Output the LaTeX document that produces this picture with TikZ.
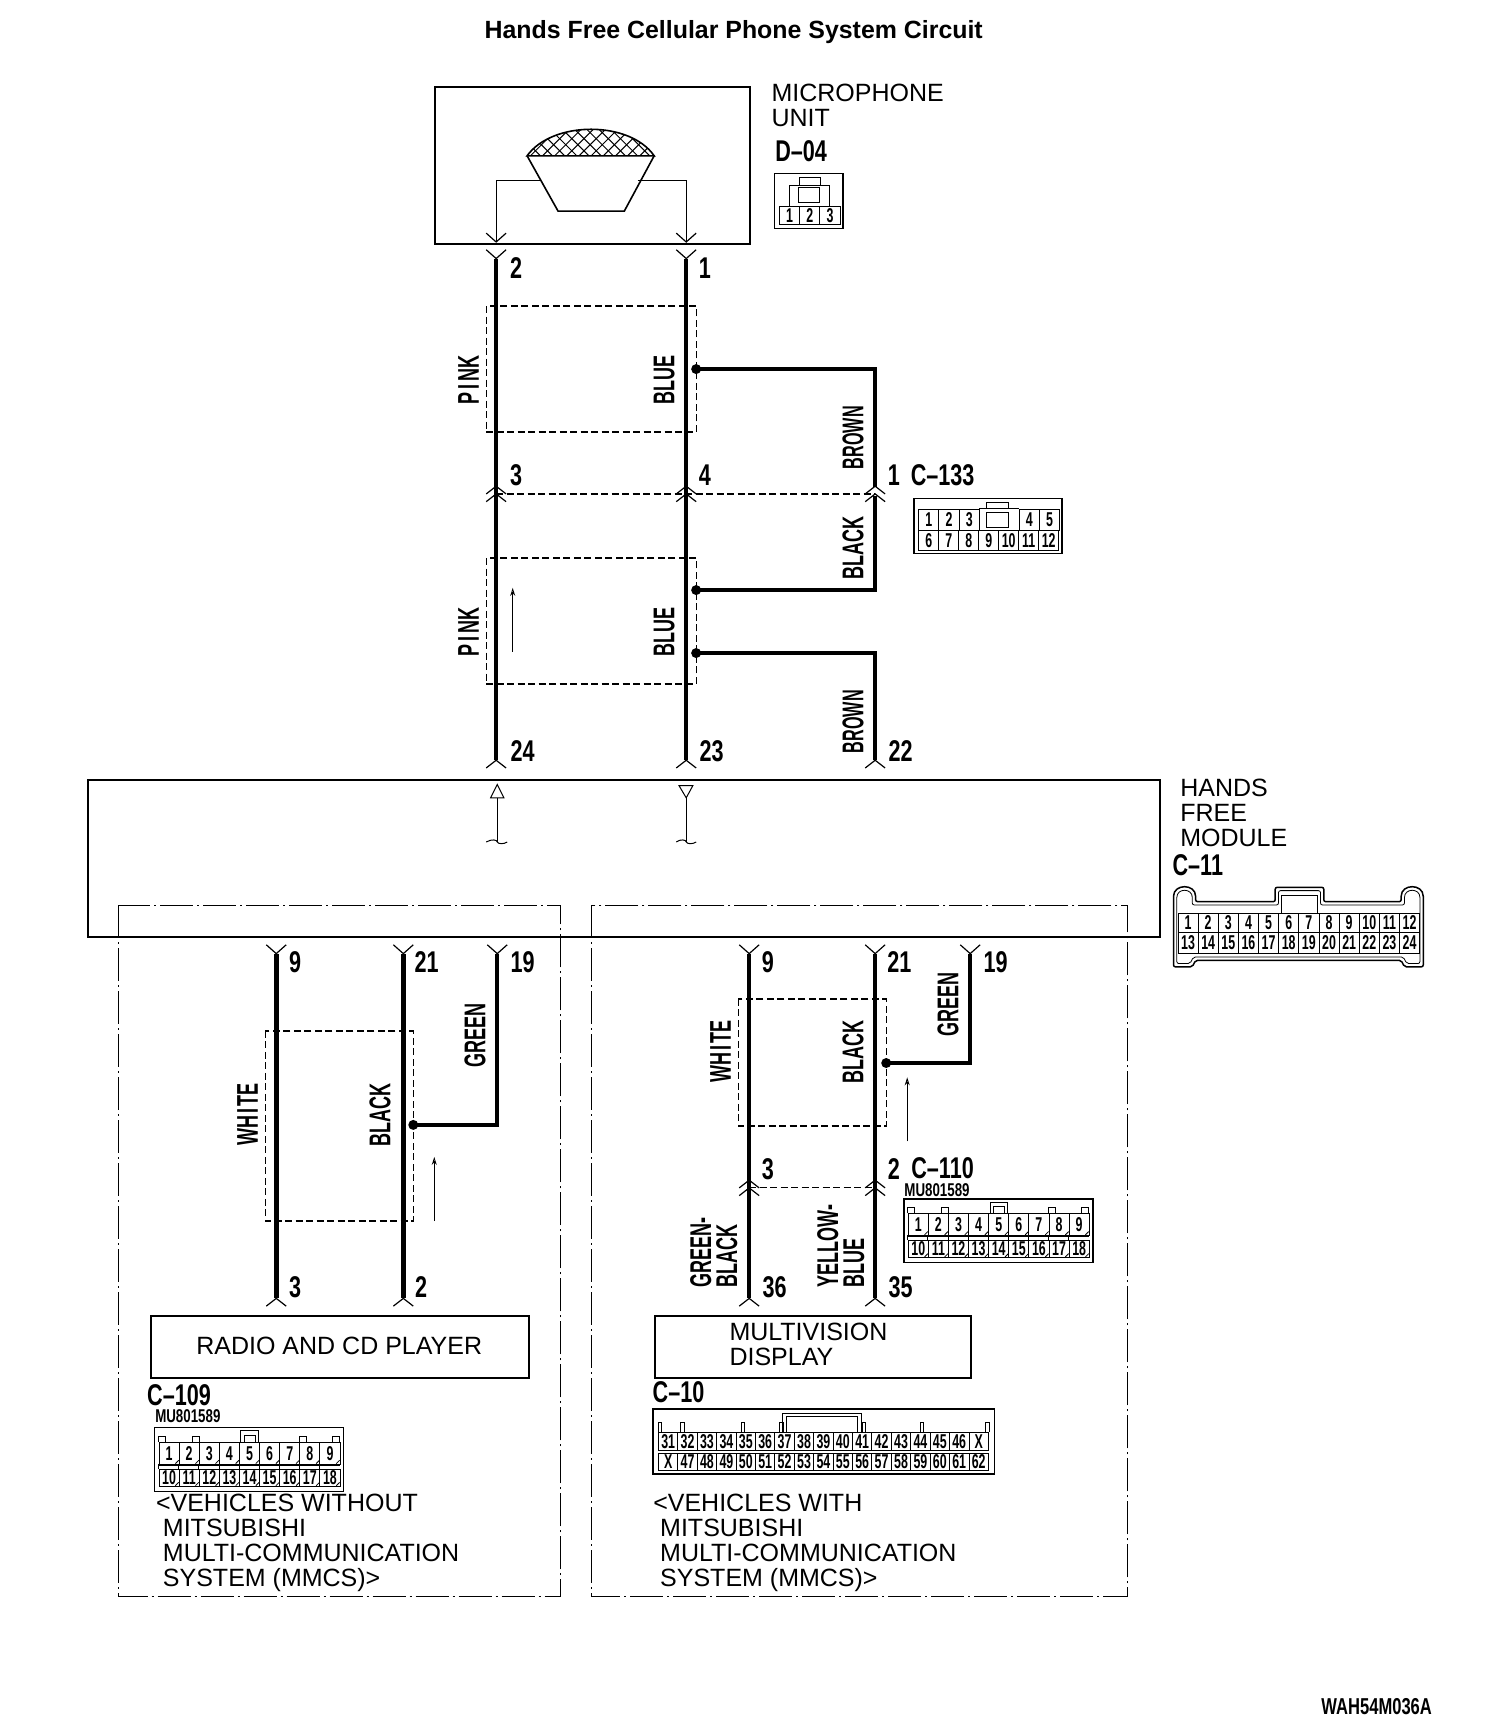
\documentclass[tikz,border=0pt]{standalone}
\usepackage{fontspec}
\setmainfont{Liberation Sans}
\newfontface\numf{Liberation Sans Bold}[FakeStretch=0.72]
\newfontface\pinf{Liberation Sans Bold}[FakeStretch=0.62]
\newfontface\wiref{Liberation Sans Bold}[FakeStretch=0.6]
\newfontface\brownf{Liberation Sans Bold}[FakeStretch=0.54]
\newfontface\titlef{Liberation Sans Bold}
\usetikzlibrary{calc,arrows.meta}
\tikzset{
  plainbox/.style={draw,line width=1.8pt,inner sep=0,anchor=north west},
  txt/.style={inner sep=0,align=left,anchor=north west,font=\fontsize{25}{25}\selectfont},
  num/.style={inner sep=0,anchor=center,font=\numf\fontsize{30}{30}\selectfont},
  wlab/.style={inner sep=0,anchor=center,rotate=90,align=center,font=\wiref\fontsize{30}{26}\selectfont},
  wirethick/.style={line width=4.5pt},
  wirebranch/.style={line width=3.8pt,line join=miter},
  wirethin/.style={line width=1.2pt},
  dbox/.style={line width=1.2pt,dash pattern=on 7pt off 3.5pt},
  ddbox/.style={line width=1pt,dash pattern=on 33pt off 4pt on 2pt off 4pt},
  pincell/.style={draw,line width=.9pt,inner sep=0,anchor=north west,font=\pinf\fontsize{20}{20}\selectfont},
  conn/.style={draw,line width=1.4pt},
  dotj/.style={circle,fill=black,inner sep=0,minimum size=10pt},
  thinarrow/.style={line width=.8pt,-{Stealth[length=8pt,width=5pt,open]}},
}
\newcommand{\chevA}[2]{\draw[line width=1.2pt] (#1-9,#2+7) -- (#1,#2) -- (#1+9,#2+7);}
\newcommand{\chevY}[2]{\draw[line width=1.2pt] (#1-9,#2-8) -- (#1,#2) -- (#1+9,#2-8);}
% prefix, x0, y0, cell width, cell height, labels
\newcommand{\pinrow}[6]{%
  \foreach \n [count=\i] in {#6} {
    \node[pincell,minimum width={#4*1.105pt},minimum height={#5*1.105pt}] (#1-\i) at ({#2+(\i-1)*#4},#3) {\n};
  }}
\newcommand{\tick}[2]{\draw[line width=.8pt] (#1-3,#2) -- (#1,#2-3);}
\newcommand{\muconn}[3]{% prefix, x0, y0 (outer top-left)
  \draw[conn] (#2,#3) rectangle ++(171,57.5);
  \pinrow{#1a}{#2+3.5}{#3+13}{18.2}{19.5}{1,2,3,4,5,6,7,8,9}
  \pinrow{#1b}{#2+3.5}{#3+37}{18.2}{15.5}{10,11,12,13,14,15,16,17,18}
  \draw[line width=.8pt] (#2+3.5,#3+34) -- (#2+167.3,#3+34);
  \foreach \k in {0,...,8} {
    \draw[line width=.8pt] (#2+3.5+\k*18.2,#3+32.5) -- ++(0,4.5);
    \tick{#2+3.5+\k*18.2+18.2}{#3+32.5}
    \tick{#2+3.5+\k*18.2+18.2}{#3+52.5}
  }
  \foreach \tx in {3.5,34,131,161} {\draw[line width=.8pt] (#2+\tx,#3+13) -- ++(0,-5) -- ++(6,0) -- ++(0,5);}
  \draw[line width=1pt] (#2+78,#3+13) -- ++(0,-10) -- ++(16,0) -- ++(0,10);
  \draw[line width=.8pt] (#2+81,#3+13) -- ++(0,-6) -- ++(10,0) -- ++(0,6);
}
\begin{document}
\begin{tikzpicture}[x=1.105pt,y=-1.105pt]
\useasboundingbox (0,0) rectangle (1361.09,1567.42);
\fill[white] (0,0) rectangle (1361.09,1567.42);

\node[inner sep=0,font=\titlef\fontsize{24.9}{25}\selectfont] (title) at (664,29) {Hands Free Cellular Phone System Circuit};

% microphone unit
\node[plainbox,minimum width={285*1.105pt},minimum height={142*1.105pt}] (mic) at (393,78) {};
\node[txt] (miclab) at (698,76) {MICROPHONE\\UNIT};
\node[num] (d04) at (725,137) {D–04};
\coordinate (lw) at (449,163); \coordinate (rw) at (621,163);
\draw[wirethin] (490,163) -- (lw) -- (449,219);
\draw[wirethin] (577,163) -- (rw) -- (621,219);
\begin{scope}
  \clip (477,141) .. controls (500,109) and (570,109) .. (592,141) -- cycle;
  \foreach \k in {-8,...,8} {
    \draw[line width=1pt] (534+\k*11-35,144) -- ++(35,-35);
    \draw[line width=1pt] (534+\k*11+35,144) -- ++(-35,-35);
  }
\end{scope}
\draw[line width=1.6pt] (477,141) .. controls (500,109) and (570,109) .. (592,141) -- cycle;
\draw[line width=1.6pt] (477,141) -- (505,191) -- (565,191) -- (592,141);
\chevY{449}{219}\chevY{621}{219}\chevY{449}{234}\chevY{621}{234}

% D-04 connector
\draw[conn] (701,157) rectangle (763,207);
\pinrow{d}{705}{186}{18.3}{17}{1,2,3}
\draw[line width=.8pt] (714,186) -- (714,168) -- (751,168) -- (751,186);
\draw[line width=.8pt] (723,168) -- (723,160.5) -- (742,160.5) -- (742,168);
\draw[line width=1pt] (723,170) rectangle (742,183);

% upper wiring
\draw[wirethick] (449,234) -- (449,688);
\draw[wirethick] (621,234) -- (621,688);
\draw[dbox] (440,277) rectangle (630,391);
\draw[dbox] (440,505) rectangle (630,619);
\node[wlab] (pink1) at (424,344) {P\hspace{3pt}I\hspace{3pt}NK};
\node[wlab] (blue1) at (601,344) {BLUE};
\node[wlab] (pink2) at (424,572) {P\hspace{3pt}I\hspace{3pt}NK};
\node[wlab] (blue2) at (601,572) {BLUE};
\node[wlab,font=\brownf\fontsize{30}{26}\selectfont] (brown1) at (772,396) {BROWN};
\node[wlab] (black1) at (772,496) {BLACK};
\node[wlab,font=\brownf\fontsize{30}{26}\selectfont] (brown2) at (772,653) {BROWN};
\node[dotj] (j1) at (630,334) {};
\node[dotj] (j2) at (630,534) {};
\node[dotj] (j3) at (630,591) {};
\draw[wirebranch] (j1.center) -- (792,334) -- (792,441);
\draw[wirebranch] (j2.center) -- (792,534) -- (792,449);
\draw[wirebranch] (j3.center) -- (792,591) -- (792,688);
\draw[dbox] (449,447) -- (792,447);
\foreach \xx in {449,621,792} {\chevA{\xx}{440}\chevA{\xx}{447}\chevA{\xx}{688}}
\node[num] (n2) at (467,243) {2};
\node[num] (n1) at (638,243) {1};
\node[num] (n3) at (467,430) {3};
\node[num] (n4) at (638,430) {4};
\node[num] (n1b) at (809,430) {1};
\node[num] (c133) at (853,430) {C–133};
\node[num] (n24) at (473,680) {24};
\node[num] (n23) at (644,680) {23};
\node[num] (n22) at (815,680) {22};
\coordinate (a1s) at (464,590); \coordinate (a1e) at (464,532);
\draw[thinarrow] (a1s) -- (a1e);

% C-133 connector
\draw[conn] (827,451) rectangle (961,501);
\pinrow{ca}{831}{460.5}{18.3}{19}{1,2,3}
\pinrow{cb}{922}{460.5}{18.3}{19}{4,5}
\pinrow{cc}{831}{479.5}{18.1}{18.5}{6,7,8,9,10,11,12}
\draw[line width=.8pt] (886,460.5) -- (922,460.5);
\draw[line width=.8pt] (893,464) rectangle (913,477);
\draw[line width=.8pt] (893,460.5) -- (893,454.5) -- (913,454.5) -- (913,460.5);

% module
\node[plainbox,minimum width={970*1.105pt},minimum height={142*1.105pt}] (module) at (79,705) {};
\node[txt] (modlab) at (1068,705) {HANDS\\FREE\\MODULE};
\node[num] (c11) at (1084,783) {C–11};
\draw[line width=1pt] (450,710) -- (444,722) -- (456,722) -- cycle;
\draw[line width=1pt] (450,722) -- (450,762);
\draw[line width=1pt] (440,762) .. controls (445,759) and (450,760) .. (450,762) .. controls (451,764) and (456,764) .. (459,762);
\draw[line width=1pt] (614.5,711) -- (627,711) -- (621,722) -- cycle;
\draw[line width=1pt] (621,722) -- (621,762);
\draw[line width=1pt] (612,762) .. controls (616,759) and (621,760) .. (621,762) .. controls (622,764) and (627,764) .. (630,762);

% C-11 connector
\draw[line width=1.5pt,rounded corners=2pt]
  (1062,875) -- (1062,813) .. controls (1062,799.5) and (1082,799.5) .. (1082,813)
  -- (1082,816) -- (1154,816) -- (1154,803) -- (1198,803) -- (1198,816) -- (1268,816)
  -- (1268,813) .. controls (1268,799.5) and (1288,799.5) .. (1288,813)
  -- (1288,875) -- (1271,875) -- (1268,869) -- (1082,869) -- (1079,875) -- cycle;
\draw[line width=.8pt,rounded corners=2pt]
  (1065,872) -- (1065,814) .. controls (1065,803.5) and (1079,803.5) .. (1079,814)
  -- (1079,819) -- (1157,819) -- (1157,806) -- (1195,806) -- (1195,819) -- (1271,819)
  -- (1271,814) .. controls (1271,803.5) and (1285,803.5) .. (1285,814)
  -- (1285,872) -- (1273,872) -- (1270,866) -- (1080,866) -- (1077,872) -- cycle;
\draw[line width=.8pt] (1160,826) -- (1160,810) -- (1192,810) -- (1192,826);
\pinrow{ea}{1065.6}{826}{18.23}{17.5}{1,2,3,4,5,6,7,8,9,10,11,12}
\pinrow{eb}{1065.6}{843.5}{18.23}{18.5}{13,14,15,16,17,18,19,20,21,22,23,24}

% variant frames
\draw[ddbox] (107,819) rectangle (507,1445);
\draw[ddbox] (535,819) rectangle (1020,1445);

% left variant
\draw[wirethick] (250,863) -- (250,1175);
\draw[wirethick] (365,863) -- (365,1175);
\draw[dbox] (240,933) rectangle (374,1105);
\node[dotj] (j4) at (374,1018) {};
\draw[wirebranch] (j4.center) -- (450,1018) -- (450,863);
\foreach \xx in {250,365,450} {\chevY{\xx}{863}}
\foreach \xx in {250,365} {\chevA{\xx}{1175}}
\node[num] (l9) at (267,871) {9};
\node[num] (l21) at (386,871) {21};
\node[num] (l19) at (473,871) {19};
\node[num] (l3) at (267,1165) {3};
\node[num] (l2) at (381,1165) {2};
\node[wlab] (lwhite) at (224,1009) {WH\hspace{2pt}I\hspace{2pt}TE};
\node[wlab] (lblack) at (344,1009) {BLACK};
\node[wlab] (lgreen) at (430,937) {GREEN};
\coordinate (a2s) at (393,1105); \coordinate (a2e) at (393,1047);
\draw[thinarrow] (a2s) -- (a2e);
\node[plainbox,minimum width={342*1.105pt},minimum height={56*1.105pt}] (radio) at (136,1190) {};
\node[inner sep=0,font=\fontsize{25}{25}\selectfont] (radiolab) at (307,1218) {RADIO AND CD PLAYER};
\node[num] (c109) at (162,1263) {C–109};
\node[inner sep=0,font=\numf\fontsize{18.5}{18.5}\selectfont] (mu1) at (170,1282) {MU801589};
\muconn{f}{140}{1292}
\node[txt] (t1) at (141,1352) {<VEHICLES WITHOUT\\\ MITSUBISHI\\\ MULTI-COMMUNICATION\\\ SYSTEM (MMCS)>};

% right variant
\draw[wirethick] (678,863) -- (678,1175);
\draw[wirethick] (792,863) -- (792,1175);
\draw[dbox] (668,904) rectangle (802,1019);
\node[dotj] (j5) at (802,962) {};
\draw[wirebranch] (j5.center) -- (878,962) -- (878,863);
\draw[dbox] (678,1075) -- (792,1075);
\foreach \xx in {678,792,878} {\chevY{\xx}{863}}
\foreach \xx in {678,792} {\chevA{\xx}{1068}\chevA{\xx}{1075}\chevA{\xx}{1175}}
\node[num] (r9) at (695,871) {9};
\node[num] (r21) at (814,871) {21};
\node[num] (r19) at (901,871) {19};
\node[num] (r3) at (695,1058) {3};
\node[num] (r2) at (809,1058) {2};
\node[num] (c110) at (853,1057) {C–110};
\node[inner sep=0,font=\numf\fontsize{18.5}{18.5}\selectfont] (mu2) at (848,1077) {MU801589};
\node[num] (r36) at (701,1165) {36};
\node[num] (r35) at (815,1165) {35};
\node[wlab] (rwhite) at (652,952) {WH\hspace{2pt}I\hspace{2pt}TE};
\node[wlab] (rblack) at (772,952) {BLACK};
\node[wlab] (rgreen) at (858,909) {GREEN};
\node[wlab,anchor=west,align=left] (rgb) at (646,1165) {GREEN-\\BLACK};
\node[wlab,anchor=west,align=left] (ryb) at (761,1165) {YELLOW-\\BLUE};
\coordinate (a3s) at (821,1033); \coordinate (a3e) at (821,975);
\draw[thinarrow] (a3s) -- (a3e);
\muconn{g}{818}{1085}
\node[plainbox,minimum width={286*1.105pt},minimum height={56*1.105pt}] (multi) at (592,1190) {};
\node[txt] (multilab) at (660,1197) {MULTIVISION\\DISPLAY};
\node[num] (c10) at (614,1260) {C–10};

% C-10 connector
\draw[conn] (591,1275) rectangle (900,1334);
\pinrow{ha}{595.5}{1296}{17.56}{16}{31,32,33,34,35,36,37,38,39,40,41,42,43,44,45,46,X}
\pinrow{hb}{595.5}{1314.5}{17.56}{16}{X,47,48,49,50,51,52,53,54,55,56,57,58,59,60,61,62}
\foreach \tx in {595.5,616,671,705.5,780,833,892} {\draw[line width=.8pt] (\tx,1296) -- ++(0,-9) -- ++(3,0) -- ++(0,9);}
\draw[line width=1pt] (708,1296) -- (708,1279) -- (780,1279) -- (780,1296);
\draw[line width=1pt] (712,1296) -- (712,1282) -- (776,1282) -- (776,1296);
\node[txt] (t2) at (591,1352) {<VEHICLES WITH\\\ MITSUBISHI\\\ MULTI-COMMUNICATION\\\ SYSTEM (MMCS)>};

\node[inner sep=0,anchor=east,font=\numf\fontsize{23}{23}\selectfont] (code) at (1296,1544) {WAH54M036A};
\end{tikzpicture}
\end{document}
